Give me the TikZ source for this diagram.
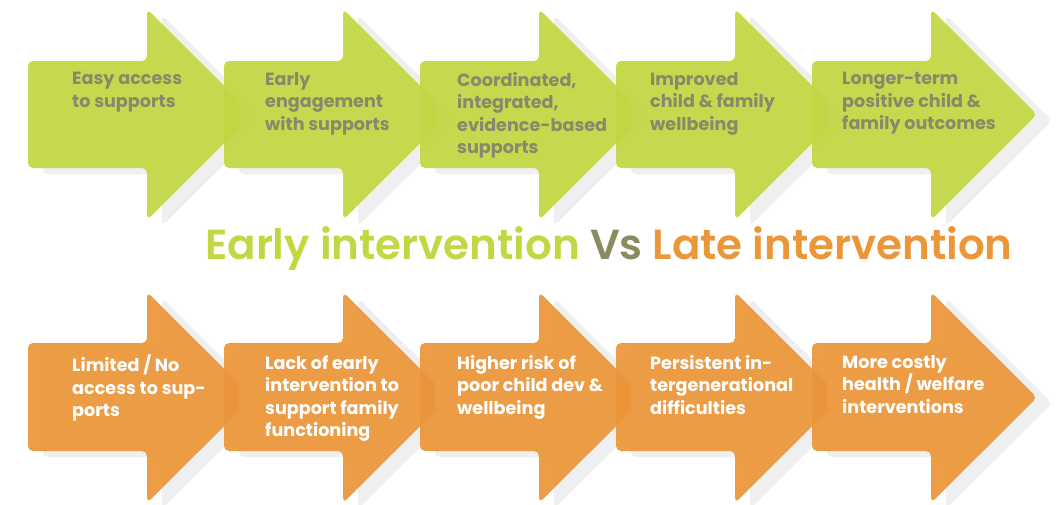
\documentclass[tikz,border=0pt]{standalone}
\usepackage{fontspec}
\setmainfont{Poppins}
\newfontfamily\boxf{Poppins}[UprightFont={* Bold}]
\newfontfamily\titlef{Poppins}[UprightFont={* SemiBold}]
\definecolor{lime}{HTML}{C2D742}
\definecolor{orng}{HTML}{EB9639}
\definecolor{txtgray}{HTML}{878A6A}
\definecolor{vsgray}{HTML}{8A8C60}
\definecolor{shad}{HTML}{EFEFEF}
\tikzset{
  boxtext/.style={anchor=north west, inner sep=0pt, align=left,
    font=\boxf\fontsize{17.6}{22.5}\selectfont},
  toptext/.style={boxtext, text=txtgray},
  bottext/.style={boxtext, text=white},
}
% arrow path: #1 left x, #2 head top y, #3 body top y, #4 body bottom y, #5 head bottom y
\newcommand{\arrowpath}[5]{%
  (#1,#3) -- (#1+119,#3) -- (#1+119,#2) -- (#1+225,{(#2+#5)/2}) -- (#1+119,#5) -- (#1+119,#4) -- (#1,#4) -- cycle}
\begin{document}
\begin{tikzpicture}[x=1pt,y=-1pt]
\useasboundingbox (0,0) rectangle (1062,504);
\fill[white] (0,0) rectangle (1062,504);
% ---------- top row ----------
\foreach \i in {0,...,4}{
  \pgfmathsetmacro{\L}{28+196*\i}
  \fill[shad, rounded corners=5pt, shift={(15,6)}] \arrowpath{\L}{9}{61}{168}{220};
  \ifnum\i>0
    \begin{scope}
      \clip \arrowpath{\L}{9}{61}{168}{220};
      \fill[black, opacity=0.06, rounded corners=5pt, shift={(4,3)}] \arrowpath{\L-196}{9}{61}{168}{220};
    \end{scope}
  \fi
  \fill[lime, fill opacity=0.93, rounded corners=5pt] \arrowpath{\L}{9}{61}{168}{220};
}
% ---------- bottom row ----------
\foreach \i in {0,...,4}{
  \pgfmathsetmacro{\L}{28+196*\i}
  \fill[shad, rounded corners=5pt, shift={(15,6)}] \arrowpath{\L}{292}{343}{451}{503};
  \ifnum\i>0
    \begin{scope}
      \clip \arrowpath{\L}{292}{343}{451}{503};
      \fill[black, opacity=0.06, rounded corners=5pt, shift={(4,3)}] \arrowpath{\L-196}{292}{343}{451}{503};
    \end{scope}
  \fi
  \fill[orng, fill opacity=0.93, rounded corners=5pt] \arrowpath{\L}{292}{343}{451}{503};
}
% ---------- texts ----------
\node[toptext] (t1) at (72,72)  {Easy access\\to supports};
\node[toptext] (t2) at (265,72) {Early\\engagement\\with supports};
\node[toptext] (t3) at (457,72) {Coordinated,\\integrated,\\evidence-based\\supports};
\node[toptext] (t4) at (650,72) {Improved\\child \& family\\wellbeing};
\node[toptext] (t5) at (842,72) {Longer-term\\positive child \&\\family outcomes};

\node[bottext] (b1) at (72,355)  {Limited / No\\access to sup-\\ports};
\node[bottext] (b2) at (265,355) {Lack of early\\intervention to\\support family\\functioning};
\node[bottext] (b3) at (457,355) {Higher risk of\\poor child dev \&\\wellbeing};
\node[bottext] (b4) at (650,355) {Persistent in-\\tergenerational\\difficulties};
\node[bottext] (b5) at (842,355) {More costly\\health / welfare\\interventions};

% ---------- title ----------
\node[anchor=base west, inner sep=0pt, font=\titlef\fontsize{42}{46}\selectfont] (title) at (205,259)
  {\textcolor{lime}{Early intervention} \textcolor{vsgray}{Vs} \textcolor{orng}{Late intervention}};
\end{tikzpicture}
\end{document}
